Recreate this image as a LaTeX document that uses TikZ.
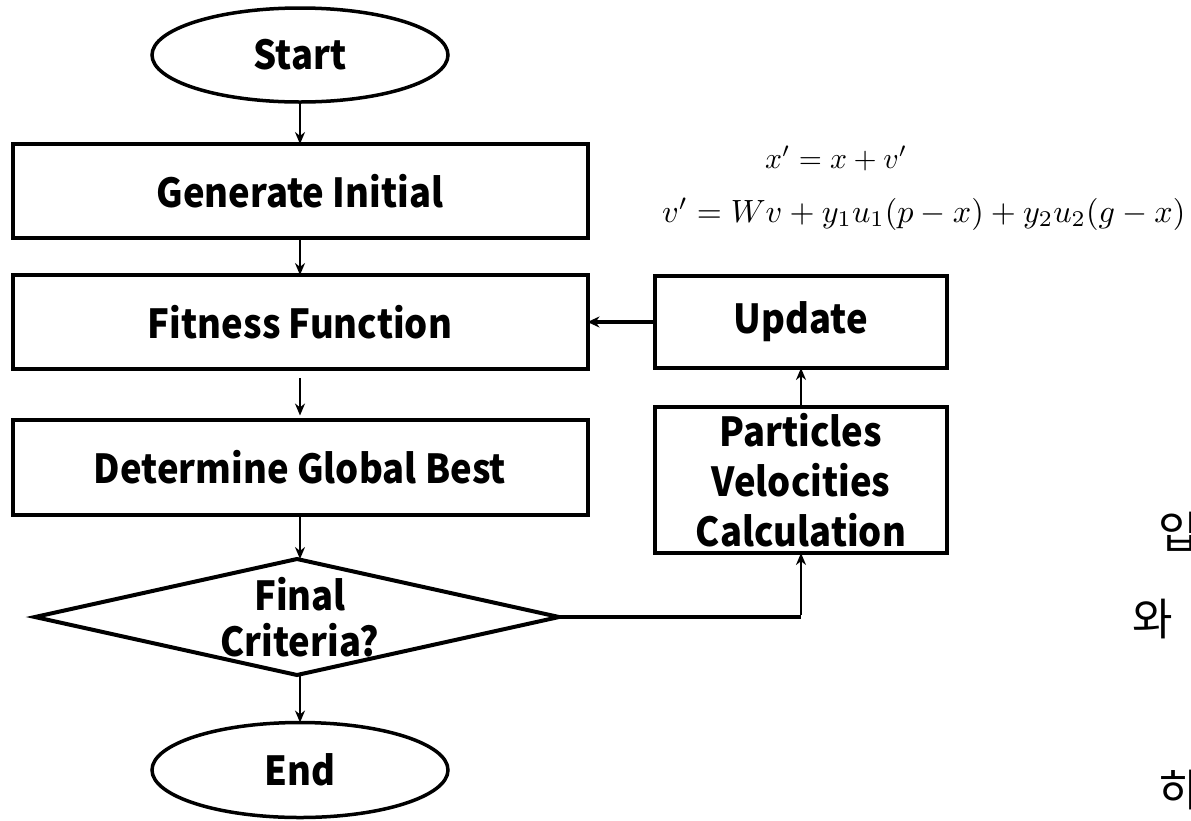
\documentclass[tikz,border=0pt]{standalone}
\usepackage{fontspec}
\usepackage{graphicx}
\usetikzlibrary{shapes.geometric,arrows.meta}
\newfontfamily\lblfont{Noto Sans CJK KR}[FakeStretch=0.91]
\newfontfamily\korfont{Noto Sans CJK KR}

\tikzset{
  lbl/.style={font=\lblfont\bfseries\fontsize{40}{50}\selectfont, align=center},
  stepbox/.style={lbl, draw, rectangle, line width=4pt, inner sep=0pt, outer sep=0pt},
  term/.style={lbl, draw, ellipse, line width=3.5pt, minimum width=296pt, minimum height=94pt, inner sep=0pt, outer sep=0pt},
  flow/.style={line width=2.8pt, -{Stealth[length=12pt,width=10pt]}},
  thickflow/.style={line width=4pt, -{Stealth[length=12pt,width=11pt]}},
  eqn/.style={anchor=base west, inner sep=0pt},
  kor/.style={font=\korfont\fontsize{44}{44}\selectfont, anchor=west, inner sep=0pt},
}

\begin{document}
\begin{tikzpicture}[x=1pt,y=-1pt]
  \fill[white] (0,0) rectangle (1191,820);
  \useasboundingbox (0,0) rectangle (1191,820);

  % main column
  \node[term] (start) at (300,55) {Start};
  \node[stepbox, minimum width=575pt, minimum height=94pt] (gen) at (300,191) {Generate Initial};
  \node[stepbox, minimum width=575pt, minimum height=94pt] (fit) at (300,322) {Fitness Function};
  \node[stepbox, minimum width=575pt, minimum height=95pt] (det) at (300,467) {Determine Global Best};
  \node[draw, diamond, line width=4pt, minimum width=524pt, minimum height=116pt,
        inner sep=0pt, outer sep=0pt] (dec) at (297,617) {};
  \node[lbl, font=\lblfont\bfseries\fontsize{40}{46}\selectfont] (dectext) at (300,617) {Final\\Criteria?};
  \node[term, minimum height=95pt] (end) at (300,770) {End};

  % side column
  \node[stepbox, minimum width=292pt, minimum height=92pt] (upd) at (801,322) {Update};
  \node[stepbox, minimum width=292pt, minimum height=146pt] (part) at (801,480) {Particles\\Velocities\\Calculation};

  % update rules
  \node[eqn] (eqx) at (765,168) {\resizebox{142pt}{!}{$x' = x + v'$}};
  \node[eqn] (eqv) at (662,222) {\resizebox{523pt}{!}{$v' = Wv + y_1u_1(p - x) + y_2u_2(g - x)$}};

  % Korean fragments at the right edge
  \node[kor] (k1) at (1158,532) {입};
  \node[kor] (k2) at (1132,619) {와};
  \node[kor] (k3) at (1158,790) {히};

  % connectors
  \coordinate (turn) at (part.south |- dec.east);
  \draw[flow] (start.south) -- (gen.north);
  \draw[flow] (gen.south) -- (fit.north);
  \draw[flow, shorten <=9pt, shorten >=4pt] (fit.south) -- (det.north);
  \draw[flow] (det.south) -- (det.south |- dec.north);
  \draw[flow] (dec.south -| dectext) -- (end.north);
  \draw[line width=4pt] (dec.east) -- (turn);
  \draw[flow] ([yshift=2pt]turn) -- (part.south);
  \draw[flow] (part.north) -- (upd.south);
  \draw[thickflow] (upd.west) -- (fit.east);
\end{tikzpicture}
\end{document}
